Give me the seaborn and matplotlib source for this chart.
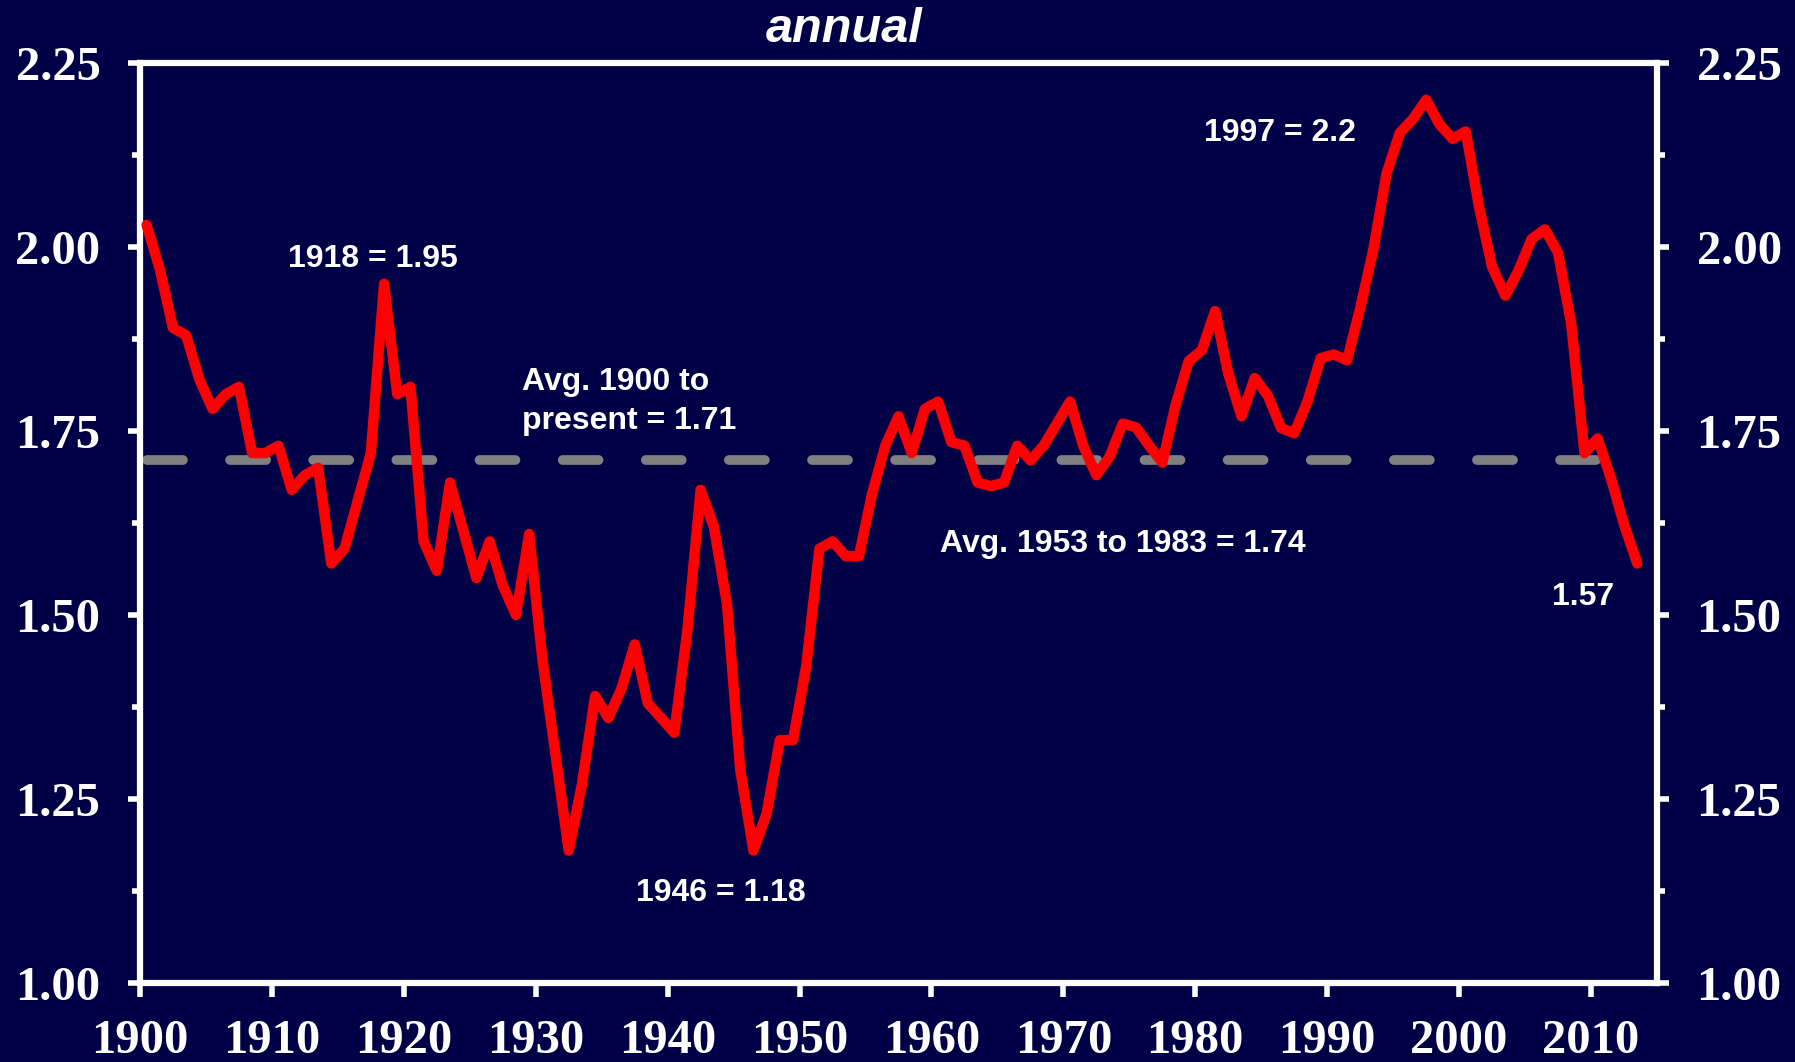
import numpy as np
import pandas as pd
import matplotlib
matplotlib.use("Agg")
import matplotlib.pyplot as plt
import seaborn as sns
from matplotlib.ticker import MultipleLocator, FormatStrFormatter, FixedLocator

# ---- data -------------------------------------------------------------
years = list(range(1900, 2014))
ratio = [
    2.03, 1.97, 1.89, 1.88, 1.82, 1.78, 1.80, 1.81, 1.72, 1.72,      # 1900s
    1.73, 1.67, 1.69, 1.70, 1.57, 1.59, 1.655, 1.72, 1.95, 1.80,     # 1910s
    1.81, 1.60, 1.56, 1.68, 1.615, 1.55, 1.60, 1.54, 1.50, 1.61,     # 1920s
    1.44, 1.31, 1.18, 1.27, 1.39, 1.36, 1.40, 1.46, 1.38, 1.36,      # 1930s
    1.34, 1.48, 1.67, 1.62, 1.515, 1.29, 1.18, 1.23, 1.33, 1.33,     # 1940s
    1.43, 1.59, 1.60, 1.58, 1.58, 1.665, 1.73, 1.77, 1.72, 1.78,     # 1950s
    1.79, 1.735, 1.73, 1.68, 1.675, 1.68, 1.73, 1.71, 1.73, 1.76,    # 1960s
    1.79, 1.73, 1.69, 1.715, 1.76, 1.755, 1.73, 1.707, 1.785, 1.845, # 1970s
    1.86, 1.913, 1.828, 1.77, 1.822, 1.798, 1.754, 1.747, 1.79, 1.849,  # 1980s
    1.854, 1.846, 1.917, 1.997, 2.10, 2.155, 2.174, 2.20, 2.167, 2.147, # 1990s
    2.157, 2.055, 1.973, 1.934, 1.968, 2.011, 2.024, 1.992, 1.895, 1.72, # 2000s
    1.74, 1.686, 1.623, 1.57,                                          # 2010s
]
avg_all = 1.71
decade_labels = list(range(1900, 2020, 10))
y_ticks = [1.00, 1.25, 1.50, 1.75, 2.00, 2.25]

df = pd.DataFrame({"year": years, "ratio": ratio})

# ---- style ------------------------------------------------------------
bg = "#000046"
sns.set_theme(style="ticks", rc={
    "axes.facecolor": bg,
    "figure.facecolor": bg,
    "axes.edgecolor": "white",
    "xtick.color": "white",
    "ytick.color": "white",
    "text.color": "white",
})
plt.rcParams["font.family"] = ["Liberation Serif", "DejaVu Serif"]
plt.rcParams["font.weight"] = "bold"

fig = plt.figure(figsize=(17.95, 10.62), dpi=100)
ax = fig.add_axes([140 / 1795, 79 / 1062, (1657 - 140) / 1795, (983 - 63) / 1062])

# long-run average (dashed) and the annual series
ax.plot([years[0], years[-1]], [avg_all, avg_all], color="#808080", lw=7,
        dashes=(3.7, 4.85), dash_capstyle="round", zorder=2)
sns.lineplot(data=df, x="year", y="ratio", ax=ax, color="#ff0000", lw=7.5,
             solid_capstyle="round", solid_joinstyle="round", zorder=3)

# ---- axes -------------------------------------------------------------
ax.set_xlim(years[0] - 0.5, years[-1] + 1.5)
ax.set_ylim(1.0, 2.25)
ax.xaxis.set_major_locator(FixedLocator(np.array(decade_labels) - 0.5))
ax.set_xticklabels([str(d) for d in decade_labels])
ax.yaxis.set_major_locator(FixedLocator(y_ticks))
ax.yaxis.set_minor_locator(MultipleLocator(0.125))
ax.yaxis.set_major_formatter(FormatStrFormatter("%.2f"))
ax.set_xlabel("")
ax.set_ylabel("")

for s in ax.spines.values():
    s.set_visible(True)
    s.set_linewidth(4.5)
    s.set_color("white")

ax.tick_params(axis="y", which="major", length=8.5, width=4, direction="out",
               left=True, right=True, labelleft=True, labelright=True,
               pad=20, labelsize=35, labelcolor="white")
ax.tick_params(axis="y", which="minor", length=5.5, width=4, direction="out",
               left=True, right=True)
ax.tick_params(axis="x", which="major", length=10, width=4, direction="out",
               pad=16, labelsize=35, labelcolor="white")
ax.grid(False)

# ---- annotations ------------------------------------------------------
sans = ["Liberation Sans", "DejaVu Sans"]
note = dict(color="white", fontsize=23, fontweight="bold", family=sans)
ax.text(1910.74, 1.973, "1918 = 1.95", ha="left", va="baseline", **note)
ax.text(1928.49, 1.837, "Avg. 1900 to\npresent = 1.71", ha="left", va="top",
        linespacing=1.38, **note)
ax.text(1960.18, 1.586, "Avg. 1953 to 1983 = 1.74", ha="left", va="baseline", **note)
ax.text(1937.08, 1.112, "1946 = 1.18", ha="left", va="baseline", **note)
ax.text(1980.18, 2.1435, "1997 = 2.2", ha="left", va="baseline", **note)
ax.text(2006.55, 1.514, "1.57", ha="left", va="baseline", **note)

fig.text(844 / 1795, 1 - 42 / 1062, "annual", ha="center", va="baseline",
         fontsize=35, fontstyle="italic", fontweight="bold", family=sans,
         color="white")

fig.savefig("out.png", dpi=100, facecolor=bg)
